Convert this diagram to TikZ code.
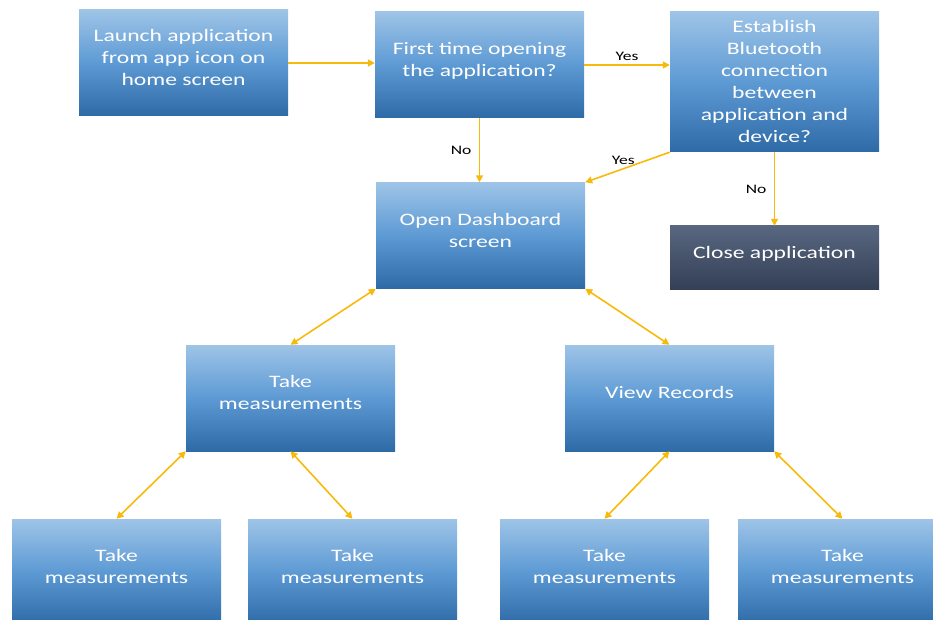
\documentclass[tikz,border=0pt]{standalone}
\usepackage{fontspec}
\setmainfont{Carlito}[FakeStretch=1.35]
\usepackage{tikz}
\usetikzlibrary{arrows.meta}

\definecolor{boxtop}{RGB}{158,196,231}
\definecolor{boxmid}{RGB}{93,154,212}
\definecolor{boxbot}{RGB}{46,106,166}
\definecolor{darktop}{RGB}{88,102,128}
\definecolor{darkbot}{RGB}{52,64,86}
\definecolor{linkgold}{RGB}{247,186,10}

\tikzset{
  flowbox/.style={rectangle, minimum width=209pt, minimum height=106pt,
    top color=boxtop, bottom color=boxbot, middle color=boxmid,
    text=white, align=center, inner sep=2pt, text depth=11pt,
    font=\fontsize{17.5}{22}\selectfont},
  closebox/.style={flowbox, minimum height=63pt,
    top color=darktop, bottom color=darkbot, middle color=darktop!50!darkbot},
  link/.style={draw=linkgold, line width=1.6pt, -{Triangle[length=7pt,width=7pt]}},
  twoway/.style={link, {Triangle[length=7pt,width=7pt]}-{Triangle[length=7pt,width=7pt]}},
  answer/.style={text=black, font=\fontsize{13}{15}\selectfont}
}

\begin{document}
\begin{tikzpicture}[x=1pt,y=-1pt]
            \useasboundingbox (0,0) rectangle (933,620);
            \clip (0,0) rectangle (933,620);

            \node[flowbox] (launch) at (183.5,63) {Launch application\\from app icon on\\home screen};
            \node[flowbox] (first) at (479.5,65) {First time opening\\the application?};
            \node[flowbox, minimum height=140pt, text depth=2pt] (bluetooth) at (774.5,82) {Establish\\Bluetooth\\connection\\between\\application and\\device?};
            \node[flowbox] (dashboard) at (480.5,235.5) {Open Dashboard\\screen};
            \node[closebox] (close) at (774.5,257.5) {Close application};
            \node[flowbox] (measure) at (290.5,398) {Take\\measurements};
            \node[flowbox] (records) at (669.5,398) {View Records};
            \node[flowbox] (measureA) at (116.5,572) {Take\\measurements};
            \node[flowbox] (measureB) at (352.5,572) {Take\\measurements};
            \node[flowbox] (measureC) at (604.5,572) {Take\\measurements};
            \node[flowbox] (measureD) at (842.5,572) {Take\\measurements};

            \draw[link] (launch.east) -- (launch.east -| first.west);
            \draw[link] (first.east) -- node[answer, above] {Yes} (first.east -| bluetooth.west);
            \draw[link] (first.south) -- node[answer, left, xshift=-4pt] {No} (first.south |- dashboard.north);
            \draw[link] (bluetooth.south west) -- node[answer, above, pos=0.55] {Yes} (dashboard.north east);
            \draw[link] (bluetooth.south) -- node[answer, left, xshift=-4pt] {No} (close.north);

            \draw[twoway] (dashboard.south west) -- (measure.north);
            \draw[twoway] (dashboard.south east) -- (records.north);
            \draw[twoway] (measure.south west) -- (measureA.north);
            \draw[twoway] (measure.south) -- (measureB.north);
            \draw[twoway] (records.south) -- (measureC.north);
            \draw[twoway] (records.south east) -- (measureD.north);

        \end{tikzpicture}
\end{document}
